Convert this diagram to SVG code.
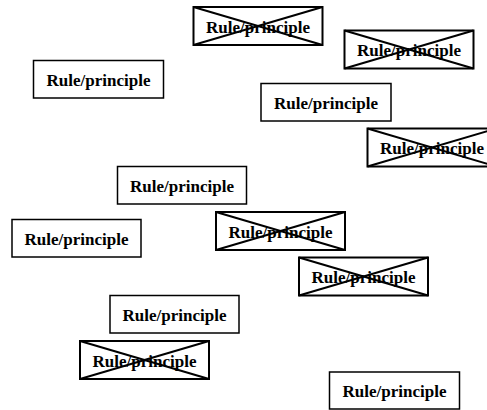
<svg xmlns="http://www.w3.org/2000/svg" width="487" height="410" viewBox="0 0 487 410">
  <style>
    .box { fill: #ffffff; stroke: #000000; stroke-width: 1.5; }
    .crossed .box, .crossed line { stroke-width: 2; }
    line { stroke: #000000; }
    text { font-family: "Liberation Serif", "Times New Roman", serif; font-weight: bold; font-size: 17px; text-anchor: middle; fill: #000000; }
  </style>
  <rect width="487" height="410" fill="#ffffff"/>

  <!-- crossed-out rules -->
  <g id="rule-a" class="crossed">
    <rect class="box" x="193.5" y="7" width="129" height="38"/>
    <text x="258" y="32.5">Rule/principle</text>
    <line x1="193.5" y1="7" x2="322.5" y2="45"/>
    <line x1="193.5" y1="45" x2="322.5" y2="7"/>
  </g>
  <g id="rule-b" class="crossed">
    <rect class="box" x="344.5" y="30.5" width="129" height="38"/>
    <text x="409" y="56">Rule/principle</text>
    <line x1="344.5" y1="30.5" x2="473.5" y2="68.5"/>
    <line x1="344.5" y1="68.5" x2="473.5" y2="30.5"/>
  </g>
  <g id="rule-d" class="crossed">
    <rect class="box" x="367.5" y="128.5" width="129" height="38"/>
    <text x="432" y="154">Rule/principle</text>
    <line x1="367.5" y1="128.5" x2="496.5" y2="166.5"/>
    <line x1="367.5" y1="166.5" x2="496.5" y2="128.5"/>
  </g>
  <g id="rule-h" class="crossed">
    <rect class="box" x="216" y="212" width="129" height="38"/>
    <text x="280.5" y="237.5">Rule/principle</text>
    <line x1="216" y1="212" x2="345" y2="250"/>
    <line x1="216" y1="250" x2="345" y2="212"/>
  </g>
  <g id="rule-i" class="crossed">
    <rect class="box" x="299" y="257.5" width="129" height="38"/>
    <text x="363.5" y="283">Rule/principle</text>
    <line x1="299" y1="257.5" x2="428" y2="295.5"/>
    <line x1="299" y1="295.5" x2="428" y2="257.5"/>
  </g>
  <g id="rule-k" class="crossed">
    <rect class="box" x="80" y="341" width="129" height="38"/>
    <text x="144.5" y="366.5">Rule/principle</text>
    <line x1="80" y1="341" x2="209" y2="379"/>
    <line x1="80" y1="379" x2="209" y2="341"/>
  </g>

  <!-- plain rules -->
  <g id="rule-c">
    <rect class="box" x="261" y="83.5" width="130" height="37.5"/>
    <text x="326" y="108.5">Rule/principle</text>
  </g>
  <g id="rule-e">
    <rect class="box" x="33.5" y="60.5" width="130" height="37.5"/>
    <text x="98.5" y="85.5">Rule/principle</text>
  </g>
  <g id="rule-f">
    <rect class="box" x="117.5" y="166.5" width="129" height="37.5"/>
    <text x="182" y="191.5">Rule/principle</text>
  </g>
  <g id="rule-g">
    <rect class="box" x="12" y="219.5" width="129" height="37.5"/>
    <text x="76.5" y="244.5">Rule/principle</text>
  </g>
  <g id="rule-j">
    <rect class="box" x="110" y="295.5" width="129" height="37.5"/>
    <text x="174.5" y="320.5">Rule/principle</text>
  </g>
  <g id="rule-l">
    <rect class="box" x="329.5" y="372" width="130" height="37"/>
    <text x="394.5" y="397">Rule/principle</text>
  </g>
</svg>
